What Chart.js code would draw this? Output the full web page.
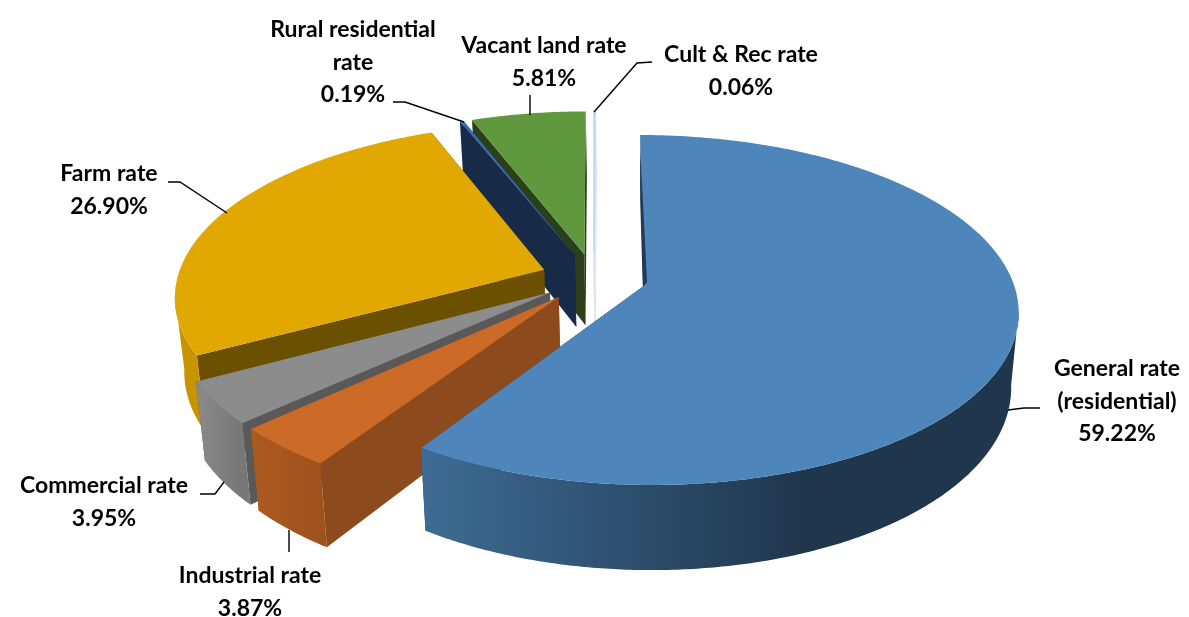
<!DOCTYPE html>
<html>
<head>
<meta charset="utf-8">
<script src="https://cdn.jsdelivr.net/npm/chart.js@4"></script>
<style>html,body{margin:0;padding:0;background:#fff}#wrap{width:1189px;height:617px}</style>
</head>
<body>
<div id="wrap"><canvas id="c" width="1189" height="617"></canvas></div>
<script>
const categories = ['General rate (residential)','Industrial rate','Commercial rate','Farm rate','Rural residential rate','Vacant land rate','Cult & Rec rate'];
const values = [59.22,3.87,3.95,26.90,0.19,5.81,0.06];
const topColors = ['#4E86BB','#CC6A27','#8C8C8C','#E0A800','#3A6CB0','#60983E','#C6D9EE'];
const wallColors = ['#1F3A55','#8C4A1D','#595959','#6B5000','#172A48','#2A3F1A','#DDE6F2'];
const sideStart = ['#3E6C94','#AD5A20','#8A8A8A','#C89500','#172A48','#2A3F1A','#DDE6F2'];
const sideEnd = ['#1F364D','#9E521D','#777777','#C89500','#172A48','#2A3F1A','#DDE6F2'];
const labelLines = [['General rate','(residential)'],['Industrial rate'],['Commercial rate'],['Farm rate'],['Rural residential','rate'],['Vacant land rate'],['Cult & Rec rate']];
const labelPos = [[1117,369],[250,576],[104,486],[109,174],[353,30],[544,46],[741,55]];
const leaders = [
  [[1008,410],[1024,408],[1040,408]],
  [[289,530],[289,552]],
  [[200,494],[215,494],[224,482]],
  [[168,182],[180,182],[227,213]],
  [[393,102],[405,102],[464,122]],
  [[530,95],[530,115]],
  [[652,62],[637,63],[594,112]]
];
// camera that tilts the flat pie: screen = origin + (radius*u + shear*v, tiltY*v)/(1 - persp*v)
const cam = {ox:645, oy:285, radius:369, tiltY:171.4, persp:0.1428, shear:5.7, depth:73, baseScale:0.98};

function project(u,v,low){
  const w = 1 - cam.persp*v;
  let X = cam.ox + (cam.radius*u + cam.shear*v)/w;
  let Y = cam.oy + cam.tiltY*v/w;
  if(low){ X = cam.ox + (X-cam.ox)*cam.baseScale; Y += cam.depth/w; }
  return [X,Y];
}
function poly(ctx,pts){
  ctx.beginPath();
  pts.forEach((p,i)=> i?ctx.lineTo(p[0],p[1]):ctx.moveTo(p[0],p[1]));
  ctx.closePath();
}
const pie3d = {
  id:'pie3d',
  beforeDatasetDraw(){ return false; },
  afterDatasetsDraw(chart){
    const ctx = chart.ctx, arcs = chart.getDatasetMeta(0).data;
    const apex = a => {
      const mid = (a.startAngle+a.endAngle)/2, off = a.options.offset/4;
      return [a.x+Math.cos(mid)*off, a.y+Math.sin(mid)*off];
    };
    const R = arcs[0].outerRadius, base = apex(arcs[0]);
    ctx.save();
    for(let i=arcs.length-1;i>=0;i--){
      const a = arcs[i], c = apex(a);
      const ax=(c[0]-base[0])/R, ay=(c[1]-base[1])/R;
      const n = Math.max(2,Math.ceil((a.endAngle-a.startAngle)/0.01));
      const rim=[];
      for(let k=0;k<=n;k++){
        const t=a.startAngle+(a.endAngle-a.startAngle)*k/n;
        rim.push([ax+Math.cos(t),ay+Math.sin(t),Math.sin(t)]);
      }
      const A=project(ax,ay), Al=project(ax,ay,true);
      const S=rim[0], E=rim[n];
      // back wall, then front wall
      ctx.fillStyle=wallColors[i];
      [E,S].forEach(P=>{
        poly(ctx,[A,project(P[0],P[1]),project(P[0],P[1],true),Al]);
        ctx.fill();
        if(values[i]<0.1){ctx.strokeStyle=wallColors[i];ctx.lineWidth=1.5;ctx.stroke();}
      });
      // outer side: only where the rim faces the camera
      const front=rim.filter(P=>P[2]>cam.persp);
      if(front.length>1){
        const upper=front.map(P=>project(P[0],P[1]));
        const lower=front.map(P=>project(P[0],P[1],true)).reverse();
        const xs=upper.map(p=>p[0]), x0=Math.min(...xs), x1=Math.max(...xs);
        const g=ctx.createLinearGradient(x0,0,x1,0);
        g.addColorStop(0,sideStart[i]);
        g.addColorStop(i===0?0.64:1,sideEnd[i]);
        if(i===0) g.addColorStop(1,sideEnd[i]);
        ctx.fillStyle=g;
        poly(ctx,upper.concat(lower));
        ctx.fill();
      }
      // top face
      ctx.fillStyle=topColors[i];
      const top=[A].concat(rim.map(P=>project(P[0],P[1])));
      poly(ctx,top);
      ctx.fill();
      if(values[i]<0.1){ctx.strokeStyle=topColors[i];ctx.lineWidth=1.5;ctx.stroke();}
      // the sliver of the opening wall that shows beside the largest slice
      if(i===0){
        const st=project(S[0],S[1]);
        const p1=[st[0]+(A[0]-st[0])*0.15,st[1]+(A[1]-st[1])*0.15];
        ctx.fillStyle=wallColors[0];
        poly(ctx,[p1,[A[0]-2,A[1]],[A[0]+2,A[1]-2]]);
        ctx.fill();
      }
    }
    // leader lines
    ctx.strokeStyle='#000';ctx.lineWidth=1.4;
    leaders.forEach(l=>{
      ctx.beginPath();
      l.forEach((p,k)=>k?ctx.lineTo(p[0],p[1]):ctx.moveTo(p[0],p[1]));
      ctx.stroke();
    });
    // labels
    ctx.fillStyle='#000';ctx.textAlign='center';ctx.textBaseline='middle';
    ctx.font='bold 23px Lato, "Open Sans", sans-serif';
    labelLines.forEach((lines,i)=>{
      const all=lines.concat([values[i].toFixed(2)+'%']);
      all.forEach((t,k)=>ctx.fillText(t,labelPos[i][0],labelPos[i][1]+k*32.3));
    });
    ctx.restore();
  }
};
new Chart(document.getElementById('c'),{
  type:'pie',
  data:{labels:categories,datasets:[{data:values,backgroundColor:topColors,borderWidth:0,offset:116,radius:200}]},
  options:{responsive:false,animation:false,events:[],
    plugins:{legend:{display:false},tooltip:{enabled:false},title:{display:false}}},
  plugins:[pie3d]
});
</script>
</body>
</html>
